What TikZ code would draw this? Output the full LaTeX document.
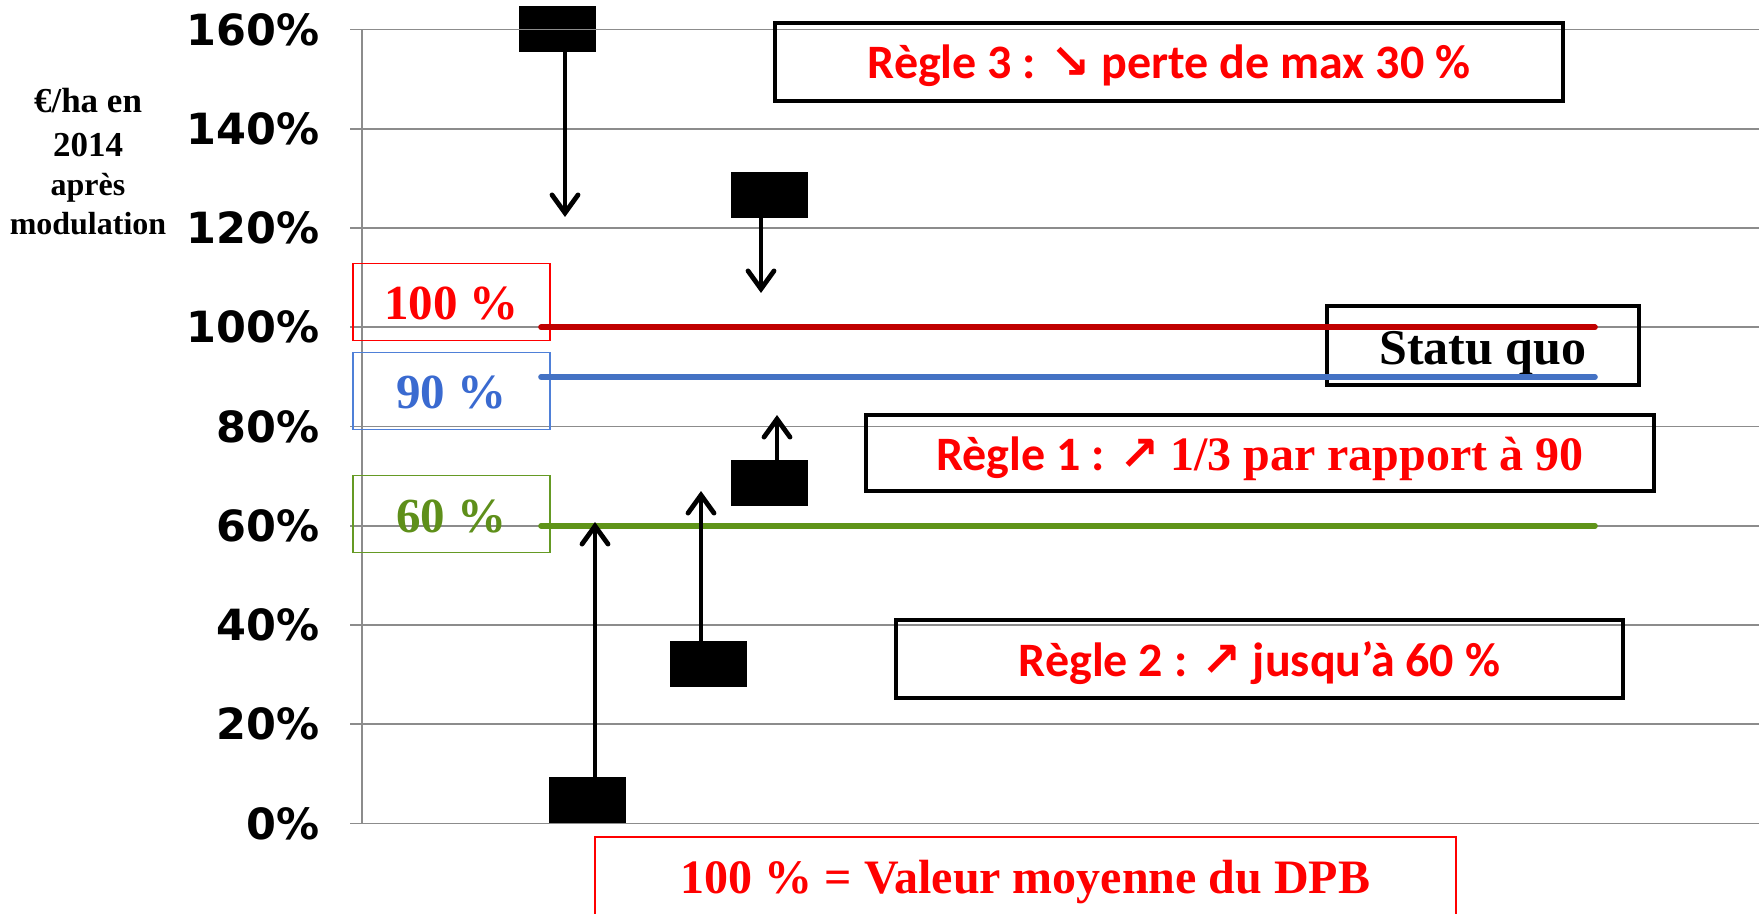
\documentclass[tikz,border=0pt]{standalone}
\usepackage{fontspec}
\usepackage{graphicx}
\setmainfont{Liberation Serif}
\newfontfamily\djv{DejaVu Sans}
\newfontfamily\carl{Carlito}
\usetikzlibrary{arrows.meta}
\definecolor{gridgray}{HTML}{8C8C8C}
\definecolor{lred}{HTML}{C00000}
\definecolor{lblue}{HTML}{4472C4}
\definecolor{lgreen}{HTML}{5F9419}
\definecolor{tred}{HTML}{FF0000}
\definecolor{tblue}{HTML}{3A6AD0}
\definecolor{tgreen}{HTML}{5E8F1A}
\definecolor{bblue}{HTML}{4F80D8}
\definecolor{bgreen}{HTML}{659A24}
\newcommand{\lowtext}[2]{\raisebox{-#1}[0pt][0pt]{#2}}
\begin{document}
\begin{tikzpicture}[x=0.5pt,y=-0.5pt,
  gridl/.style={draw=gridgray,line width=0.9pt},
  ticklab/.style={anchor=east,inner sep=0pt,font=\djv\bfseries\fontsize{21.5}{24}\selectfont},
  ylab/.style={anchor=base,inner sep=0pt,font=\bfseries},
  lvlbox/.style={draw,line width=0.8pt,minimum width=98.5pt,minimum height=38.5pt,inner sep=0pt,font=\bfseries\fontsize{24.5}{28}\selectfont},
  rulebox/.style={draw=black,line width=1.7pt,inner sep=0pt,text=tred,font=\carl\bfseries\fontsize{24}{28}\selectfont},
  blk/.style={fill=black,draw=none,minimum width=38.5pt,minimum height=23pt,inner sep=0pt},
  arr/.style={line width=2.4pt,line cap=round,-{Straight Barb[length=9pt,width=13pt,line cap=round]}},
  level/.style={line width=2.8pt,line cap=round}
]
\useasboundingbox (0,0) rectangle (1759,914);

% black markers
\node[blk] (sq1) at (557.5,29) {};
\node[blk] (sq2) at (769,195.5) {};
\node[blk] (sq3) at (769,482.5) {};
\node[blk] (sq4) at (708.5,664) {};
\node[blk] (sq5) at (587.5,800) {};

% grid and ticks
\foreach \v in {0,20,...,160}{
  \pgfmathsetmacro{\yy}{823.5-4.9625*\v}
  \draw[gridl] (350,\yy) -- (1759,\yy);
  \node[ticklab] (tick\v) at (320,\yy) {\v\%};
}
\draw[gridl] (362,29.5) -- (362,823.5);

% axis title
\node[ylab] (yl1) at (88,113) {\fontsize{17.5}{20}\selectfont €/ha en};
\node[ylab] (yl2) at (88,157) {\fontsize{17.5}{20}\selectfont 2014};
\node[ylab] (yl3) at (88,196) {\fontsize{16}{19}\selectfont après};
\node[ylab] (yl4) at (88,235) {\fontsize{16}{19}\selectfont modulation};

% level boxes
\node[lvlbox,draw=tred,text=tred] (b100) at (451.5,302) {\lowtext{9pt}{100 \%}};
\node[lvlbox,draw=bblue,text=tblue] (b90) at (451.5,391) {\lowtext{9pt}{90 \%}};
\node[lvlbox,draw=bgreen,text=tgreen] (b60) at (451.5,514) {\lowtext{9pt}{60 \%}};

% rule boxes
\node[rulebox,minimum width=394pt,minimum height=39pt] (r3) at (1169,62)
  {\lowtext{8.5pt}{Règle 3 : {\djv ↘} perte de max 30 \%}};
\node[rulebox,minimum width=156pt,minimum height=39.5pt,text=black,font=\bfseries\fontsize{25}{30}\selectfont] (sq) at (1483,345.5)
  {\lowtext{9.5pt}{Statu quo}};
\node[rulebox,minimum width=394pt,minimum height=38pt] (r1) at (1260,453)
  {\lowtext{8.5pt}{Règle 1 : {\djv ↗} {\rmfamily\bfseries 1/3 par rapport à 90}}};
\node[rulebox,minimum width=363.5pt,minimum height=39pt] (r2) at (1259.5,659)
  {\lowtext{8.5pt}{Règle 2 : {\djv ↗} jusqu’à 60 \%}};
\node[draw=tred,line width=0.9pt,minimum width=430.5pt,minimum height=41pt,inner sep=0pt,text=tred,font=\bfseries\fontsize{24}{28}\selectfont] (dpb) at (1025.5,878)
  {\lowtext{7.5pt}{100 \% = Valeur moyenne du DPB}};

% level lines
\draw[level,lred] (541,327.3) -- (1595,327.3);
\draw[level,lblue] (541,376.9) -- (1595,376.9);
\draw[level,lgreen] (541,525.8) -- (1595,525.8);

% arrows
\coordinate (e1) at (565,217);
\coordinate (e2) at (761,293);
\coordinate (e3) at (777,415);
\coordinate (e4) at (701,491);
\coordinate (e5) at (595,522);
\draw[arr] (sq1.south -| e1) -- (e1);
\draw[arr] (sq2.south -| e2) -- (e2);
\draw[arr] (sq3.north -| e3) -- (e3);
\draw[arr] (sq4.north -| e4) -- (e4);
\draw[arr] (sq5.north -| e5) -- (e5);
\end{tikzpicture}
\end{document}
